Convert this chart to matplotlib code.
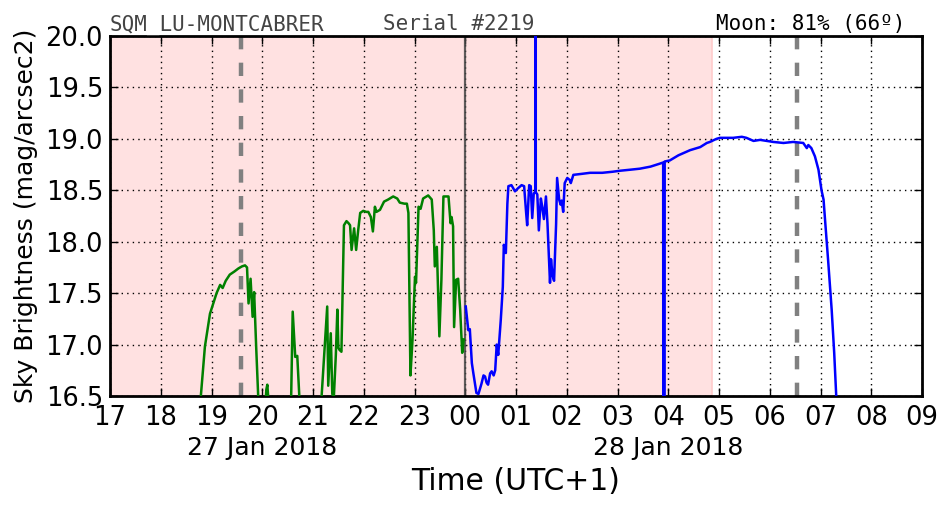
import numpy as np
import matplotlib
matplotlib.use("Agg")
import matplotlib.pyplot as plt
import matplotlib.dates as mdates

# ---------------- data (hours after 2018-01-27 00:00, UTC+1) ----------------
green_hours = [18.70, 18.79, 18.87, 18.97, 19.10, 19.17, 19.22, 19.28, 19.36, 19.45,
               19.53, 19.60, 19.66, 19.70, 19.73, 19.77, 19.81, 19.84, 19.88, 19.92,
               19.96, 20.05, 20.08, 20.10, 20.13, 20.50, 20.57, 20.60, 20.65, 20.69,
               20.73, 20.77, 21.10, 21.17, 21.28, 21.30, 21.35, 21.38, 21.41, 21.45,
               21.48, 21.50, 21.52, 21.56, 21.61, 21.66, 21.70, 21.73, 21.76, 21.81,
               21.85, 21.89, 21.93, 21.99, 22.05, 22.09, 22.14, 22.18, 22.22, 22.25,
               22.32, 22.40, 22.48, 22.58, 22.66, 22.71, 22.80, 22.85, 22.88, 22.92,
               22.96, 23.01, 23.03, 23.08, 23.12, 23.17, 23.27, 23.34, 23.38, 23.40,
               23.44, 23.49, 23.53, 23.57, 23.67, 23.71, 23.73, 23.76, 23.78, 23.82,
               23.86, 23.90, 23.94, 23.97]
green_mag = [16.00, 16.50, 16.98, 17.30, 17.50, 17.58, 17.55, 17.62, 17.68, 17.71,
             17.74, 17.76, 17.77, 17.75, 17.40, 17.64, 17.27, 17.51, 16.98, 16.50,
             16.20, 16.30, 16.56, 16.61, 16.40, 16.20, 16.50, 17.32, 16.88, 16.89,
             16.50, 16.20, 16.30, 16.50, 17.37, 16.60, 17.11, 16.52, 16.48, 16.90,
             17.34, 16.97, 16.95, 16.93, 18.16, 18.20, 18.18, 18.16, 17.92, 18.13,
             17.92, 18.11, 18.28, 18.30, 18.29, 18.29, 18.24, 18.10, 18.34, 18.29,
             18.31, 18.39, 18.41, 18.44, 18.42, 18.38, 18.37, 18.37, 18.28, 16.70,
             17.04, 17.66, 17.60, 18.34, 18.32, 18.42, 18.45, 18.41, 18.11, 17.76,
             17.95, 17.08, 17.63, 18.44, 18.44, 18.18, 18.24, 18.15, 17.17, 17.63,
             17.64, 17.34, 16.92, 17.05]

blue_hours = [24.01, 24.06, 24.09, 24.13, 24.16, 24.22, 24.26, 24.32, 24.36, 24.39,
              24.42, 24.45, 24.49, 24.52, 24.56, 24.59, 24.62, 24.65, 24.70, 24.74,
              24.76, 24.80, 24.83, 24.85, 24.91, 24.98, 25.04, 25.11, 25.16, 25.20,
              25.22, 25.26, 25.29, 25.32, 25.35, 25.380, 25.385, 25.39, 25.42, 25.45,
              25.49, 25.52, 25.55, 25.59, 25.62, 25.67, 25.69, 25.72, 25.75, 25.79,
              25.81, 25.85, 25.88, 25.90, 25.93, 25.96, 26.01, 26.06, 26.08, 26.13,
              26.30, 26.46, 26.70, 26.90, 27.05, 27.25, 27.44, 27.65, 27.84, 27.900,
              27.915, 27.930, 28.03, 28.20, 28.43, 28.63, 28.76, 28.82, 28.95, 29.02,
              29.28, 29.45, 29.54, 29.68, 29.81, 30.07, 30.27, 30.46, 30.66, 30.73,
              30.76, 30.82, 30.89, 30.96, 31.02, 31.06, 31.09, 31.15, 31.22, 31.27,
              31.31, 31.35]
blue_mag = [17.37, 17.14, 17.15, 16.82, 16.72, 16.53, 16.52, 16.62, 16.70, 16.69,
            16.63, 16.61, 16.72, 16.74, 16.70, 16.75, 17.00, 16.90, 17.24, 17.56,
            17.97, 17.89, 18.37, 18.54, 18.55, 18.49, 18.52, 18.55, 18.54, 18.28,
            18.16, 18.55, 18.54, 18.23, 18.47, 18.48, 30.00, 18.48, 18.46, 18.11,
            18.42, 18.33, 18.22, 18.44, 18.18, 17.60, 17.83, 17.67, 17.62, 18.17,
            18.62, 18.41, 18.36, 18.40, 18.29, 18.57, 18.62, 18.60, 18.57, 18.65,
            18.66, 18.67, 18.67, 18.68, 18.69, 18.70, 18.71, 18.73, 18.76, 18.77,
            0.00, 18.78, 18.79, 18.84, 18.89, 18.92, 18.96, 18.97, 19.00, 19.01,
            19.01, 19.02, 19.01, 18.98, 18.99, 18.97, 18.96, 18.97, 18.96, 18.91,
            18.94, 18.91, 18.83, 18.70, 18.50, 18.41, 18.21, 17.82, 17.34, 16.92,
            16.50, 16.20]

moon_line_hours = [19.58, 30.54]
midnight_hour = 24.0
night_end_hour = 28.862
xlim_hours = [17.0, 33.0]
ylim_mag = [16.5, 20.0]
date_labels = ["27 Jan 2018", "28 Jan 2018"]
date_label_hours = [20.0, 28.0]

title_left = "SQM_LU-MONTCABRER"
title_mid = "Serial #2219"
title_right = "Moon: 81% (66º)"

base = np.datetime64("2018-01-27T00:00:00")


def to_dt(hours):
    return base + (np.asarray(hours) * 3600).round().astype("timedelta64[s]")


# ---------------- figure ----------------
plt.rcParams["font.family"] = ["DejaVu Sans"]
fig = plt.figure(figsize=(9.52, 5.12), dpi=100)
ax = fig.add_axes([110 / 952, 1 - 396 / 512, 812 / 952, 360 / 512])

x0 = to_dt([xlim_hours[0]])[0]
ax.axvspan(x0, to_dt([night_end_hour])[0], facecolor="#ffe1e1",
           edgecolor="#ffcccc", linewidth=1.2, zorder=0)

ax.grid(True, color="k", linestyle=(0, (1, 3)), linewidth=1.0, zorder=1)

ax.axvline(to_dt([midnight_hour])[0], color="#444444", alpha=0.85, linewidth=1.6, zorder=2)
for h in moon_line_hours:
    ax.axvline(to_dt([h])[0], color="gray", linewidth=3.2,
               dashes=(3, 3), zorder=2)

ax.plot(to_dt(green_hours), green_mag, color="#008000", linewidth=1.8, zorder=3)
ax.plot(to_dt(blue_hours), blue_mag, color="#0000ff", linewidth=1.8, zorder=3)

ax.set_xlim(to_dt(xlim_hours))
ax.set_ylim(ylim_mag)
ax.set_yticks(np.arange(16.5, 20.01, 0.5))
ax.yaxis.set_major_formatter(matplotlib.ticker.FormatStrFormatter("%.1f"))
ax.xaxis.set_major_locator(mdates.HourLocator())
ax.xaxis.set_major_formatter(mdates.DateFormatter("%H"))

ax.tick_params(axis="both", which="major", direction="in", length=6, width=1,
               top=True, right=True, labelsize=18.5)
ax.tick_params(axis="x", pad=6.5)
ax.tick_params(axis="y", pad=5)
for sp in ax.spines.values():
    sp.set_linewidth(2)

for lab, h in zip(date_labels, date_label_hours):
    ax.annotate(lab, xy=(mdates.date2num(to_dt([h])[0]), 0),
                xycoords=("data", "axes fraction"), xytext=(0, -29),
                textcoords="offset points", ha="center", va="top", fontsize=18)

ax.set_xlabel("Time (UTC+1)", fontsize=21.5, labelpad=26)
ax.set_ylabel("Sky Brightness (mag/arcsec2)", fontsize=18, labelpad=5)

ty = 4.4
ax.annotate(title_left, xy=(0, 1), xycoords="axes fraction", xytext=(0, ty),
            textcoords="offset points", ha="left", va="baseline",
            family="DejaVu Sans Mono", fontsize=15, color="#444444", zorder=5)
ax.annotate(title_mid, xy=(0.43, 1), xycoords="axes fraction", xytext=(0, ty),
            textcoords="offset points", ha="center", va="baseline",
            family="DejaVu Sans Mono", fontsize=15, color="#444444", zorder=5)
ax.annotate(title_right, xy=(0.979, 1), xycoords="axes fraction", xytext=(0, ty),
            textcoords="offset points", ha="right", va="baseline",
            family="DejaVu Sans Mono", fontsize=15, color="black", zorder=5)

fig.savefig("out.png", dpi=100)
